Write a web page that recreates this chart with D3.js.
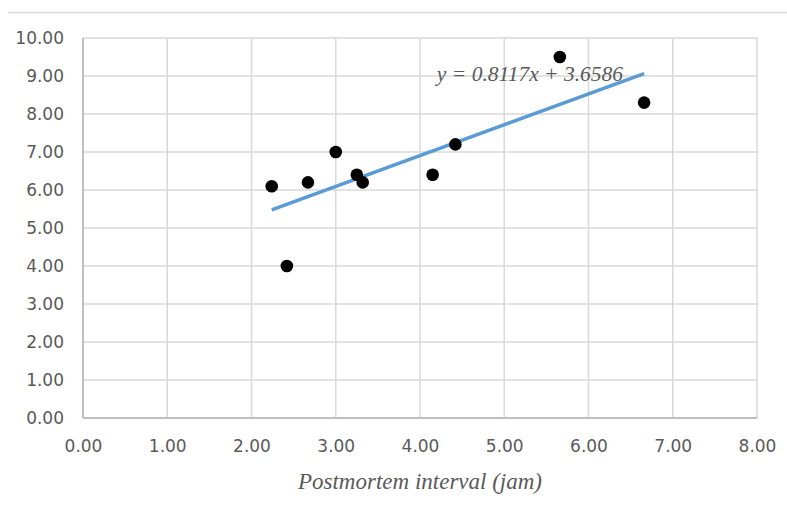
<!DOCTYPE html>
<meta charset="utf-8">
<style>
body { margin: 0; background: #fff; }
.tick text { font-family: "DejaVu Sans", Verdana, sans-serif; font-size: 17px; fill: #595959; }
.grid line { stroke: #d9d9d9; stroke-width: 1.5; }
.title { font-family: "Liberation Serif", "DejaVu Serif", serif; font-style: italic; font-size: 23px; fill: #595959; }
.eq { font-family: "Liberation Serif", "DejaVu Serif", serif; font-style: italic; font-size: 21.5px; fill: #595959; }
</style>
<svg width="787" height="505"></svg>
<script src="https://d3js.org/d3.v7.min.js"></script>
<script>

// postmortem interval (jam) vs measured value
var pmi = [2.24, 2.42, 2.67, 3.00, 3.25, 3.32, 4.15, 4.42, 5.66, 6.66];
var vals = [6.1, 4.0, 6.2, 7.0, 6.4, 6.2, 6.4, 7.2, 9.5, 8.3];
var xTicks = [0, 1, 2, 3, 4, 5, 6, 7, 8];
var yTicks = [0, 1, 2, 3, 4, 5, 6, 7, 8, 9, 10];
var slope = 0.8117, intercept = 3.6586;

var svg = d3.select("svg"),
    margin = {top: 38, right: 30, bottom: 87, left: 83},
    width = +svg.attr("width") - margin.left - margin.right,
    height = +svg.attr("height") - margin.top - margin.bottom;

var x = d3.scaleLinear().domain([0, 8]).range([0, width]),
    y = d3.scaleLinear().domain([0, 10]).range([height, 0]);

// thin rule above the chart
svg.append("line")
    .attr("x1", 8).attr("x2", 787).attr("y1", 12.5).attr("y2", 12.5)
    .attr("stroke", "#d9d9d9").attr("stroke-width", 1.5);

var g = svg.append("g")
    .attr("transform", "translate(" + margin.left + "," + margin.top + ")");

// gridlines
g.append("g").attr("class", "grid")
  .selectAll("line").data(xTicks).enter().append("line")
    .attr("x1", function(d) { return x(d); }).attr("x2", function(d) { return x(d); })
    .attr("y1", 0).attr("y2", height);
g.append("g").attr("class", "grid")
  .selectAll("line").data(yTicks).enter().append("line")
    .attr("x1", 0).attr("x2", width)
    .attr("y1", function(d) { return y(d); }).attr("y2", function(d) { return y(d); });

// axis lines
g.append("line").attr("x1", 0).attr("x2", 0).attr("y1", 0).attr("y2", height)
    .attr("stroke", "#bfbfbf").attr("stroke-width", 2);
g.append("line").attr("x1", 0).attr("x2", width).attr("y1", height).attr("y2", height)
    .attr("stroke", "#bfbfbf").attr("stroke-width", 2);

var xAxis = g.append("g")
    .attr("transform", "translate(0," + height + ")")
    .call(d3.axisBottom(x).tickValues(xTicks).tickFormat(d3.format(".2f")).tickSize(0).tickPadding(22));
xAxis.select(".domain").remove();

var yAxis = g.append("g")
    .call(d3.axisLeft(y).tickValues(yTicks).tickFormat(d3.format(".2f")).tickSize(0).tickPadding(19));
yAxis.select(".domain").remove();

// trendline
var x0 = d3.min(pmi), x1 = d3.max(pmi);
g.append("line")
    .attr("x1", x(x0)).attr("y1", y(slope * x0 + intercept))
    .attr("x2", x(x1)).attr("y2", y(slope * x1 + intercept))
    .attr("stroke", "#5b9bd5").attr("stroke-width", 3.5);

// points
g.selectAll(".dot")
    .data(pmi)
  .enter().append("circle")
    .attr("class", "dot")
    .attr("cx", function(d) { return x(d); })
    .attr("cy", function(d, i) { return y(vals[i]); })
    .attr("r", 6.3)
    .attr("fill", "#000");

// equation label
g.append("text")
    .attr("class", "eq")
    .attr("x", x(4.2)).attr("y", y(9.0) + 5)
    .text("y = 0.8117x + 3.6586");

svg.append("text")
    .attr("class", "title")
    .attr("x", 420).attr("y", 489)
    .attr("text-anchor", "middle")
    .text("Postmortem interval (jam)");

</script>
